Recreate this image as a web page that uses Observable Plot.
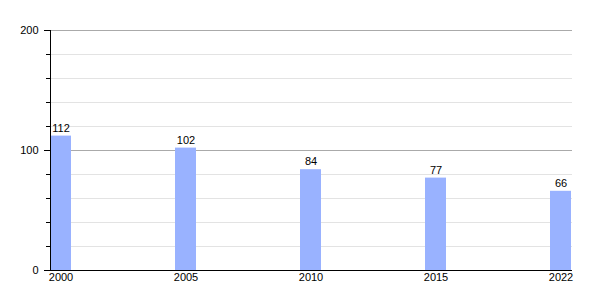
<!DOCTYPE html>
<html><head><meta charset="utf-8">
<script src="https://cdn.jsdelivr.net/npm/d3@7"></script>
<script src="https://cdn.jsdelivr.net/npm/@observablehq/plot@0.6"></script>
<style>body{margin:0;background:#fff;font-family:"Liberation Sans",Arial,sans-serif;}</style>
</head><body><div id="chart"></div>
<script>
const years = ["2000", "2005", "2010", "2015", "2022"];
const values = [112, 102, 84, 77, 66];
const majorTicks = [0, 100, 200];
const minorTicks = [20, 40, 60, 80, 120, 140, 160, 180];

const data = years.map((y, i) => ({year: y, value: values[i]}));

const chart = Plot.plot({
  width: 600,
  height: 300,
  marginLeft: 50,
  marginRight: 28,
  marginTop: 30,
  marginBottom: 30,
  style: {fontFamily: "'Liberation Sans', Arial, sans-serif", fontSize: "11px", color: "#000", background: "#fff"},
  x: {domain: years, paddingInner: 0.832, paddingOuter: 0, align: 0, label: null},
  y: {domain: [0, 200], label: null},
  marks: [
    Plot.ruleY(minorTicks, {stroke: "#e3e3e3", strokeWidth: 1}),
    Plot.ruleY(majorTicks.filter(d => d > 0), {stroke: "#aaaaaa", strokeWidth: 1}),
    Plot.barY(data, {x: "year", y: "value", fill: "#99b2ff"}),
    Plot.text(data, {x: "year", y: "value", text: d => String(d.value), dy: -8, fill: "#000", fontSize: 11}),
    Plot.axisY(majorTicks, {tickSize: 6, tickPadding: 6, stroke: "#000", fill: "#000", label: null}),
    Plot.axisY(minorTicks, {tickSize: 4, tickFormat: () => "", stroke: "#000", label: null}),
    Plot.axisX({tickSize: 0, tickPadding: 3, fill: "#000", label: null}),
    Plot.frame({anchor: "left", stroke: "#000"}),
    Plot.ruleY([0], {stroke: "#000"})
  ]
});
document.getElementById("chart").appendChild(chart);
</script></body></html>
